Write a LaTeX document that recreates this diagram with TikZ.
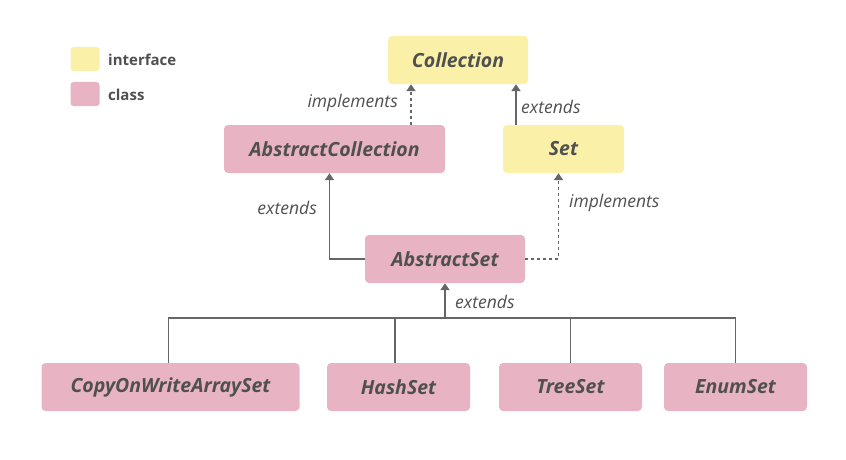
\documentclass[tikz,border=0pt]{standalone}
\usepackage{fontspec}
\setmainfont{Open Sans}
\usepackage{tikz}
\usetikzlibrary{arrows.meta}
\definecolor{ink}{HTML}{505050}
\definecolor{wire}{HTML}{666666}
\definecolor{iface}{HTML}{FAF0A8}
\definecolor{klass}{HTML}{E8B4C3}

\tikzset{
  box/.style={rounded corners=4pt, minimum height=48pt, inner sep=0pt, text=ink,
    font=\fontsize{19.5}{22}\selectfont\bfseries\itshape},
  ifacebox/.style={box, fill=iface},
  classbox/.style={box, fill=klass},
  wireline/.style={draw=wire, line width=1.8pt},
  link/.style={wireline, -{Triangle[length=7pt,width=9pt]}},
  weak/.style={dash pattern=on 3pt off 3pt},
  tag/.style={inner sep=0pt, text=ink, font=\fontsize{17.5}{20}\selectfont\itshape},
  keybox/.style={rounded corners=3pt, minimum width=29pt, minimum height=24pt, inner sep=0pt},
  keytext/.style={inner sep=0pt, anchor=west, text=ink, font=\fontsize{15}{18}\selectfont\bfseries},
}

\begin{document}
\begin{tikzpicture}[x=1pt,y=-1pt]
\useasboundingbox (0,0) rectangle (846,460);

% legend
\node[keybox, fill=iface] (keyiface) at (85,59) {};
\node[keybox, fill=klass] (keyclass) at (85,94) {};
\node[keytext] (keyifacetext) at (108,60) {interface};
\node[keytext] (keyclasstext) at (108,95) {class};

% top levels
\node[ifacebox, minimum width=140pt] (coll) at (458,60) {Collection};
\node[classbox, minimum width=221pt] (abscoll) at (334.5,149) {AbstractCollection};
\node[ifacebox, minimum width=121pt] (set) at (563.5,149) {Set};
\node[classbox, minimum width=160pt] (absset) at (445,259) {AbstractSet};

% subclasses
\node[classbox, minimum width=258pt] (cow) at (170.5,387) {CopyOnWriteArraySet};
\node[classbox, minimum width=143pt] (hash) at (398.5,387) {HashSet};
\node[classbox, minimum width=143pt] (tree) at (570.5,387) {TreeSet};
\node[classbox, minimum width=143pt] (enum) at (735.5,387) {EnumSet};

% relations
\draw[link, weak] ([xshift=76.5pt]abscoll.north) -- ([xshift=76.5pt]abscoll.north |- coll.south);
\draw[link] ([xshift=-47.5pt]set.north) -- ([xshift=-47.5pt]set.north |- coll.south);
\draw[link] (absset.west) -| ([xshift=-5pt]abscoll.south);
\draw[link, weak] (absset.east) -| ([xshift=-5pt]set.south);

\coordinate (bus) at (445,318);
\draw[wireline] ([xshift=-2pt]cow.north) |- (enum.north |- bus) -- (enum.north);
\draw[wireline] ([xshift=-3.5pt]hash.north) -- ([xshift=-3.5pt]hash.north |- bus);
\draw[wireline] (tree.north) -- (tree.north |- bus);
\draw[link] (bus) -- (absset.south);

% labels
\node[tag, anchor=east] (implcoll) at (398,103) {implements};
\node[tag, anchor=west] (extcoll) at (521,107) {extends};
\node[tag, anchor=east] (extabs) at (317,208) {extends};
\node[tag, anchor=west] (implset) at (569,203) {implements};
\node[tag, anchor=west] (extset) at (455,302) {extends};
\end{tikzpicture}
\end{document}
